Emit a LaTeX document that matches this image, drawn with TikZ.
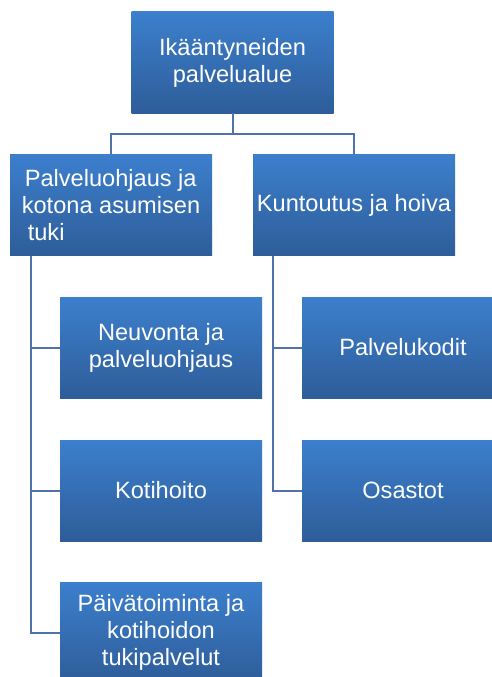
\documentclass[tikz,border=0pt]{standalone}
\usepackage{fontspec}
\setmainfont{Liberation Sans}
\definecolor{boxtop}{HTML}{3C7FCD}
\definecolor{boxbot}{HTML}{2E5D99}
\definecolor{linec}{HTML}{4F73A8}
\begin{document}
\begin{tikzpicture}[x=1pt,y=-1pt,
  box/.style={rectangle, minimum width=202pt, minimum height=101pt, inner sep=0pt,
    top color=boxtop, bottom color=boxbot, draw=none, text=white,
    font=\fontsize{23.6}{27}\selectfont, align=center},
  conn/.style={draw=linec, line width=2pt}]
\useasboundingbox (0,0) rectangle (492,677);
\clip (0,0) rectangle (492,677);
\fill[white] (0,0) rectangle (492,677);
\node[box] (top) at (232.5,62.5) {Ikääntyneiden\\palvelualue};
\node[box] (l1) at (111,205) {};
\node[font=\fontsize{23.6}{27}\selectfont, text=white, align=left, inner sep=0pt] (l1t) at (l1.center) {\hspace*{3pt}Palveluohjaus ja\\kotona asumisen\\\hspace*{6pt}tuki};
\node[box] (r1) at (354,205) {Kuntoutus ja hoiva};
\node[box] (c1) at (161,347.5) {Neuvonta ja\\palveluohjaus};
\node[box] (c2) at (161,490.5) {Kotihoito};
\node[box] (c3) at (161,632.5) {Päivätoiminta ja\\kotihoidon\\tukipalvelut};
\node[box] (d1) at (403,347.5) {Palvelukodit};
\node[box] (d2) at (403,490.5) {Osastot};
\draw[conn] (top.south) -- ++(0,21) -| (l1.north);
\draw[conn] (top.south) -- ++(0,21) -| (r1.north);
\coordinate (lt) at ([xshift=21pt]l1.south west);
\coordinate (rt) at ([xshift=20pt]r1.south west);
\draw[conn] (lt) |- (c1.west);
\draw[conn] (lt) |- (c2.west);
\draw[conn] (lt) |- (c3.west);
\draw[conn] (rt) |- (d1.west);
\draw[conn] (rt) |- (d2.west);
\end{tikzpicture}
\end{document}
